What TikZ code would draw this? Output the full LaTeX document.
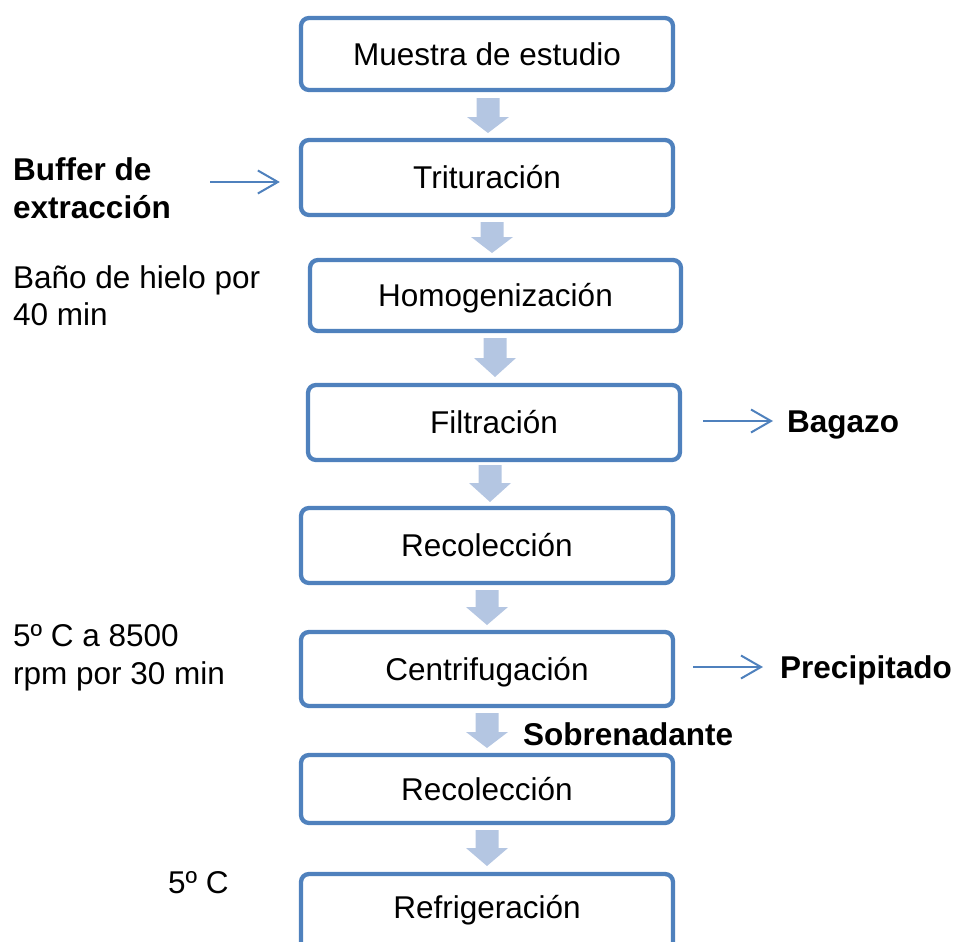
\documentclass[tikz,border=0pt]{standalone}
\usepackage{fontspec}
\setmainfont{Liberation Sans}
\usetikzlibrary{arrows.meta,calc}
\definecolor{boxblue}{RGB}{79,129,189}
\definecolor{arrfill}{RGB}{180,198,226}
\newcommand\blkarrow[4]{% center x, top, head start, tip
  \fill[arrfill] (#1-11.5,#2) -- (#1+11.5,#2) -- (#1+11.5,#3) -- (#1+21,#3) -- (#1,#4) -- (#1-21,#3) -- (#1-11.5,#3) -- cycle;}
\begin{document}
\begin{tikzpicture}[x=1pt,y=-1pt,
  bigfont/.style={font=\fontsize{31.5}{37.5}\selectfont},
  stepbox/.style={draw=boxblue, line width=4.3pt, rounded corners=8pt, fill=white,
    minimum width=372pt, inner sep=0pt, text height=22.5pt, text depth=0pt, bigfont},
  boxtext/.style={inner sep=0pt, text height=22.5pt, text depth=0pt, bigfont},
  sidetext/.style={inner sep=0pt, bigfont, align=left, anchor=north west},
  sideone/.style={inner sep=0pt, bigfont, anchor=base west},
  thinarr/.style={draw=boxblue, line width=2pt, -{Straight Barb[length=20pt,width=23pt]}}
]
\useasboundingbox (0,0) rectangle (956,942);
\clip (0,0) rectangle (956,942);

% boxes
\node[stepbox, minimum height=72pt] (b1) at (487,54) {Muestra de estudio};
\node[stepbox, minimum height=75pt] (b2) at (487,177.5) {Trituración};
\node[stepbox, minimum height=71pt, minimum width=371pt] (b3) at (495.5,295.5) {Homogenización};
\node[stepbox, minimum height=75pt] (b4) at (494,422.5) {Filtración};
\node[stepbox, minimum height=75pt] (b5) at (487,545.5) {Recolección};
\node[stepbox, minimum height=74pt] (b6) at (487,669) {Centrifugación};
\node[stepbox, minimum height=68pt] (b7) at (487,789) {Recolección};
\node[stepbox, minimum height=80pt] (b8) at (487,914) {};
\node[boxtext] (t8) at (487,907) {Refrigeración};

% block arrows between steps
\blkarrow{488}{98}{117}{133}
\blkarrow{492}{222}{237}{253}
\blkarrow{495}{338}{358}{377}
\blkarrow{490}{465}{483}{502}
\blkarrow{487}{590}{607}{625}
\blkarrow{487}{713}{732}{748}
\blkarrow{487}{830}{848}{866}

% side texts
\node[sidetext, font=\fontsize{31.5}{38}\selectfont\bfseries] (buf) at (13,157) {Buffer de\\extracción};
\node[sidetext] (hielo) at (13,265) {Baño de hielo por\\40 min};
\node[sidetext, font=\fontsize{31.5}{38}\selectfont] (cent) at (13,624) {5º C a 8500\\rpm por 30 min};
\node[sideone] (refr) at (168,893) {5º C};
\node[sideone, font=\fontsize{31.5}{37.5}\selectfont\bfseries] (bag) at (787,432) {Bagazo};
\node[sideone, font=\fontsize{31.5}{37.5}\selectfont\bfseries] (prec) at (780,678) {Precipitado};
\node[sideone, font=\fontsize{31.5}{37.5}\selectfont\bfseries] (sob) at (523,745) {Sobrenadante};

% thin arrows
\coordinate (bufS) at (210,182);
\draw[thinarr, shorten >=19pt] (bufS) -- (b2.west |- bufS);
\coordinate (bagA) at (680,421);
\coordinate (bagB) at (787,421);
\draw[thinarr, shorten <=23pt, shorten >=14pt] (bagA) -- (bagB);
\coordinate (precA) at (673,667);
\coordinate (precB) at (780,667);
\draw[thinarr, shorten <=20pt, shorten >=17pt] (precA) -- (precB);
\end{tikzpicture}
\end{document}
